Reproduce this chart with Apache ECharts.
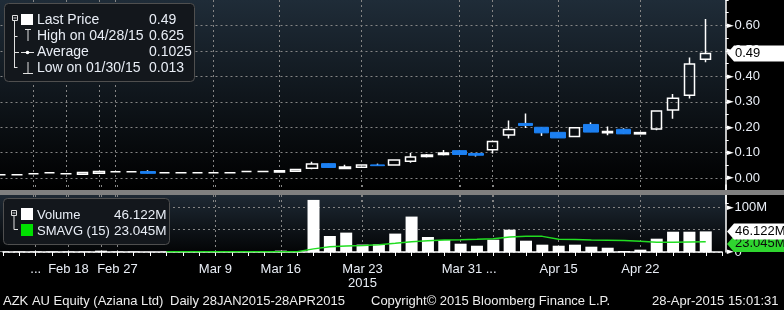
<!DOCTYPE html>
<html><head><meta charset="utf-8">
<script src="https://cdn.jsdelivr.net/npm/echarts@6/dist/echarts.min.js"></script>
<style>html,body{margin:0;padding:0;background:#000;}#c{width:784px;height:310px;}</style>
</head><body><div id="c"></div>
<script>
// ---- data ----
const dates = ['01/30','02/04','02/10','02/13','02/18','02/20','02/24','02/27','03/02','03/03','03/04','03/05','03/06','03/09','03/10','03/11','03/13','03/16','03/17','03/18','03/19','03/20','03/23','03/24','03/25','03/26','03/27','03/30','03/31','04/01','04/07','04/08','04/10','04/14','04/15','04/16','04/17','04/20','04/21','04/22','04/23','04/24','04/27','04/28'];
const tickLabels = ['','','...','','Feb 18','','','Feb 27','','','','','','Mar 9','','','','Mar 16','','','','','Mar 23\n2015','','','','','','Mar 31 ...','','','','','','Apr 15','','','','','Apr 22','','','',''];
const gridIdx = [2,4,6,7,13,17,22,28,30,34,39];
const open  = [0.013,0.013,0.017,0.021,0.017,0.015,0.019,0.025,0.025,0.026,0.021,0.021,0.021,0.021,0.021,0.026,0.026,0.024,0.027,0.039,0.057,0.038,0.043,0.052,0.052,0.066,0.085,0.093,0.108,0.097,0.112,0.170,0.215,0.200,0.180,0.164,0.211,0.178,0.192,0.174,0.193,0.268,0.326,0.467];
const close = [0.013,0.013,0.017,0.021,0.017,0.022,0.026,0.025,0.025,0.019,0.021,0.021,0.021,0.021,0.021,0.026,0.026,0.029,0.034,0.056,0.042,0.044,0.052,0.049,0.071,0.083,0.091,0.099,0.093,0.090,0.144,0.191,0.207,0.178,0.158,0.198,0.181,0.183,0.174,0.179,0.264,0.314,0.449,0.490];
const low   = [0.013,0.013,0.017,0.021,0.017,0.015,0.019,0.025,0.025,0.019,0.021,0.021,0.021,0.021,0.021,0.026,0.026,0.024,0.027,0.035,0.042,0.037,0.040,0.049,0.052,0.061,0.081,0.089,0.093,0.085,0.097,0.156,0.197,0.166,0.158,0.164,0.181,0.169,0.174,0.174,0.188,0.233,0.313,0.455];
const high  = [0.013,0.013,0.017,0.021,0.017,0.022,0.026,0.025,0.025,0.031,0.021,0.021,0.021,0.021,0.021,0.026,0.026,0.029,0.034,0.064,0.057,0.053,0.055,0.057,0.071,0.099,0.095,0.111,0.108,0.097,0.144,0.227,0.254,0.200,0.180,0.198,0.219,0.203,0.196,0.179,0.264,0.331,0.474,0.625];
const volume = [1.2,1.2,1.2,1.2,1.2,1.2,3,1.2,1.2,0.3,0.8,0.8,0.8,0.8,0.8,0.8,0.8,3,1.5,116.6,35.8,43.4,16.6,17.4,41.2,79.3,33.6,26.9,18.6,14.1,27.5,49.9,25.3,16.4,14.1,16.4,11.9,9.6,2.2,5.2,29.8,45.4,45.4,46.122];
const smavg = [null,null,null,null,null,null,null,null,null,null,0.8,0.8,0.8,0.8,0.8,0.8,0.8,0.8,0.8,7,11.5,13.5,14.5,16,19.4,23,25.3,26.8,27.5,28.4,29.8,33.6,35,35,28.4,28,26.8,26.3,25.5,24,21.8,21.8,22.5,23.045];
const priceLegend = [['Last Price','0.49'],['High on 04/28/15','0.625'],['Average','0.1025'],['Low on 01/30/15','0.013']];
const volLegend = [['Volume','46.122M'],['SMAVG (15)','23.045M']];
const lastPrice = 0.49, lastVolume = 46.122, lastSma = 23.045;
const footer = [['AZK AU Equity (Aziana Ltd)',3],['Daily 28JAN2015-28APR2015',170],['Copyright\u00a9 2015 Bloomberg Finance L.P.',371],['28-Apr-2015 15:01:31',652]];

// ---- build ----
const FONT = '"Liberation Sans", Arial, sans-serif';
const TXT = '#e9eef6';
const BLUE = '#1c80f2';
const N = dates.length;
const cats = dates.concat(['']);
const up = [], dnWick = [], dnBody = [];
for (let i = 0; i < N; i++) {
  const o = open[i], c = close[i], l = low[i], h = high[i];
  if (c >= o) { up.push([o, c, l, h]); dnWick.push('-'); dnBody.push('-'); }
  else { up.push('-'); dnWick.push([o, c, l, h]); dnBody.push([o, c, Math.min(o, c), Math.max(o, c)]); }
}
const dashed = {color: '#858585', type: [2, 3], width: 1};
const arrowRich = {
  a: {color: '#ffffff', fontSize: 9, fontFamily: 'DejaVu Sans', padding: [0, 1, 0, 0]},
  b: {color: TXT, fontSize: 13, fontFamily: FONT}
};

const chart = echarts.init(document.getElementById('c'), null, {renderer: 'canvas'});
const option = {
  animation: false,
  backgroundColor: '#000',
  grid: [
    {left: 0.5, width: 721.6, top: -3.6, height: 207.2},
    {left: 0.5, width: 721.6, top: 185, height: 67}
  ],
  xAxis: [
    {gridIndex: 0, type: 'category', data: cats, boundaryGap: false,
     axisLine: {show: false}, axisTick: {show: false}, axisLabel: {show: false},
     splitLine: {show: true, interval: (i) => gridIdx.includes(i), lineStyle: dashed}},
    {gridIndex: 1, type: 'category', data: cats, boundaryGap: false, offset: 5,
     axisLine: {show: true, lineStyle: {color: '#fff', width: 1.5}},
     axisTick: {show: true, interval: 0, length: 4, lineStyle: {color: '#fff', width: 1}},
     axisLabel: {show: true, interval: 0, color: TXT, fontSize: 13, fontFamily: FONT, margin: 5, lineHeight: 14,
       formatter: (v, i) => { const t = tickLabels[i] || ''; return t.indexOf('...') > 0 ? '{s| }' + t : t; },
       rich: {s: {width: 17}}},
     splitLine: {show: true, interval: (i) => gridIdx.includes(i), lineStyle: dashed}}
  ],
  yAxis: [
    {gridIndex: 0, type: 'value', position: 'right', offset: 3.6, min: -0.1, max: 0.7, interval: 0.1,
     axisLine: {show: true, lineStyle: {color: '#fff', width: 1.5}},
     axisTick: {show: true, length: 3, lineStyle: {color: '#fff'}},
     minorTick: {show: true, splitNumber: 2, length: 3, lineStyle: {color: '#fff'}},
     splitLine: {show: true, showMinLine: false, showMaxLine: false, lineStyle: dashed},
     axisLabel: {margin: 1, rich: arrowRich,
       formatter: (v) => { const k = Math.round(v * 100); if (k < 0 || k > 60 || k % 10) return ''; return '{a|\u25BA}{b|' + v.toFixed(2) + '}'; }}},
    {gridIndex: 1, type: 'value', position: 'right', offset: 3.6, min: 0, max: 150, interval: 50,
     axisLine: {show: true, lineStyle: {color: '#fff', width: 1.5}},
     axisTick: {show: false},
     splitLine: {show: true, showMaxLine: false, lineStyle: dashed},
     axisLabel: {margin: 1, rich: arrowRich,
       formatter: (v) => v === 100 ? '{a|\u25BA}{b|100M}' : (v === 0 ? '{a|\u25BA}{b|0}' : '')}}
  ],
  series: [
    {type: 'candlestick', xAxisIndex: 0, yAxisIndex: 0, data: up, barWidth: 11, silent: true,
     itemStyle: {color: 'rgba(0,0,0,0)', color0: 'rgba(0,0,0,0)', borderColor: '#fff', borderColor0: '#fff', borderWidth: 1.5}},
    {type: 'candlestick', xAxisIndex: 0, yAxisIndex: 0, data: dnWick, barWidth: 1, silent: true,
     itemStyle: {color: '#fff', color0: '#fff', borderColor: '#fff', borderColor0: '#fff', borderWidth: 1.5}},
    {type: 'candlestick', xAxisIndex: 0, yAxisIndex: 0, data: dnBody, barWidth: 15, silent: true, z: 3,
     itemStyle: {color: BLUE, color0: BLUE, borderColor: BLUE, borderColor0: BLUE, borderWidth: 1}},
    {type: 'bar', xAxisIndex: 1, yAxisIndex: 1, data: volume, barWidth: 12, silent: true,
     itemStyle: {color: '#ffffff'}},
    {type: 'line', xAxisIndex: 1, yAxisIndex: 1, data: smavg, showSymbol: false, silent: true, z: 4,
     lineStyle: {color: '#22dd22', width: 1.5}}
  ]
};
chart.setOption(option);

// ---- decorations (legend boxes, tags, footer) ----
const G = [];
const grad = (a, b) => ({type: 'linear', x: 0, y: 0, x2: 0, y2: 1, colorStops: [{offset: 0, color: a}, {offset: 1, color: b}]});
G.push({type: 'rect', z: -10, silent: true, shape: {x: 0, y: 0, width: 726, height: 190}, style: {fill: grad('#1f2c38', '#000000')}});
G.push({type: 'rect', z: -10, silent: true, shape: {x: 0, y: 195, width: 726, height: 58}, style: {fill: grad('#1e2934', '#030405')}});
G.push({type: 'rect', z: 60, silent: true, shape: {x: 0, y: 190, width: 784, height: 5}, style: {fill: '#808080'}});
const line = (x1, y1, x2, y2, c, w) => ({type: 'line', z: 52, silent: true, shape: {x1, y1, x2, y2}, style: {stroke: c || '#e0e0e0', lineWidth: w || 1}});
const text = (t, x, y, size) => ({type: 'text', z: 52, silent: true, x, y, style: {text: t, fill: TXT, font: size + 'px ' + FONT, verticalAlign: 'middle'}});
// price legend
G.push({type: 'rect', z: 50, silent: true, shape: {x: 4.5, y: 3.5, width: 190, height: 78, r: 4}, style: {fill: '#13171c', stroke: '#4f4f4f', lineWidth: 1}});
G.push({type: 'rect', z: 52, silent: true, shape: {x: 12.5, y: 15.5, width: 5, height: 5}, style: {fill: 'none', stroke: '#e0e0e0', lineWidth: 1}});
G.push(line(13.5, 18, 16.5, 18));
G.push({type: 'rect', z: 52, silent: true, shape: {x: 21, y: 14, width: 12, height: 11}, style: {fill: '#fff'}});
G.push(line(14.5, 21, 14.5, 68), line(14.5, 36.5, 17.5, 36.5), line(14.5, 52.5, 19, 52.5), line(14.5, 67.5, 17.5, 67.5));
G.push(line(25, 29.5, 31, 29.5), line(28, 29.5, 28, 41));
G.push(line(21, 52.5, 34, 52.5), {type: 'circle', z: 52, silent: true, shape: {cx: 27.5, cy: 52.5, r: 1.8}, style: {fill: '#fff'}});
G.push(line(28, 62, 28, 73), line(23, 73.5, 33, 73.5));
priceLegend.forEach((r, k) => { const y = 20 + k * 16; G.push(text(r[0], 37, y, 14), text(r[1], 149, y, 14)); });
// volume legend
G.push({type: 'rect', z: 50, silent: true, shape: {x: 3.5, y: 198.5, width: 166, height: 46, r: 4}, style: {fill: '#13171c', stroke: '#4f4f4f', lineWidth: 1}});
G.push({type: 'rect', z: 52, silent: true, shape: {x: 11.5, y: 210.5, width: 5, height: 5}, style: {fill: 'none', stroke: '#e0e0e0', lineWidth: 1}});
G.push(line(12.5, 213, 15.5, 213));
G.push(line(14, 216, 14, 229.5), line(14, 229.5, 18, 229.5));
G.push({type: 'rect', z: 52, silent: true, shape: {x: 21, y: 208, width: 12, height: 12}, style: {fill: '#fff'}});
G.push({type: 'rect', z: 52, silent: true, shape: {x: 21, y: 224, width: 12, height: 12}, style: {fill: '#00e000'}});
volLegend.forEach((r, k) => { const y = 215.5 + k * 15.5; G.push(text(r[0], 37, y, 13), text(r[1], 114, y, 13.5)); });
// footer
footer.forEach(f => G.push({type: 'text', z: 52, silent: true, x: f[1], y: 301, style: {text: f[0], fill: '#eeeeee', font: '13px ' + FONT, verticalAlign: 'middle'}}));
// value tags positioned through the axes
const tag = (y, label, fill, tc, z) => [
  {type: 'polygon', z, silent: true, shape: {points: [[727, y], [734, y - 8], [784, y - 8], [784, y + 8], [734, y + 8]]}, style: {fill}},
  {type: 'text', z: z + 1, silent: true, x: 735, y, style: {text: label, fill: tc, font: '13px ' + FONT, verticalAlign: 'middle'}}
];
const yP = chart.convertToPixel({yAxisIndex: 0}, lastPrice);
const yV = chart.convertToPixel({yAxisIndex: 1}, lastVolume);
const yS = Math.max(chart.convertToPixel({yAxisIndex: 1}, lastSma), yV + 12.5);
G.push(...tag(yP, lastPrice.toFixed(2), '#ffffff', '#000', 70));
G.push(...tag(yS, lastSma.toFixed(3) + 'M', '#2fd62f', '#0b0b0b', 70));
G.push(...tag(yV, lastVolume.toFixed(3) + 'M', '#ffffff', '#000', 72));
chart.setOption({graphic: G});
</script></body></html>
